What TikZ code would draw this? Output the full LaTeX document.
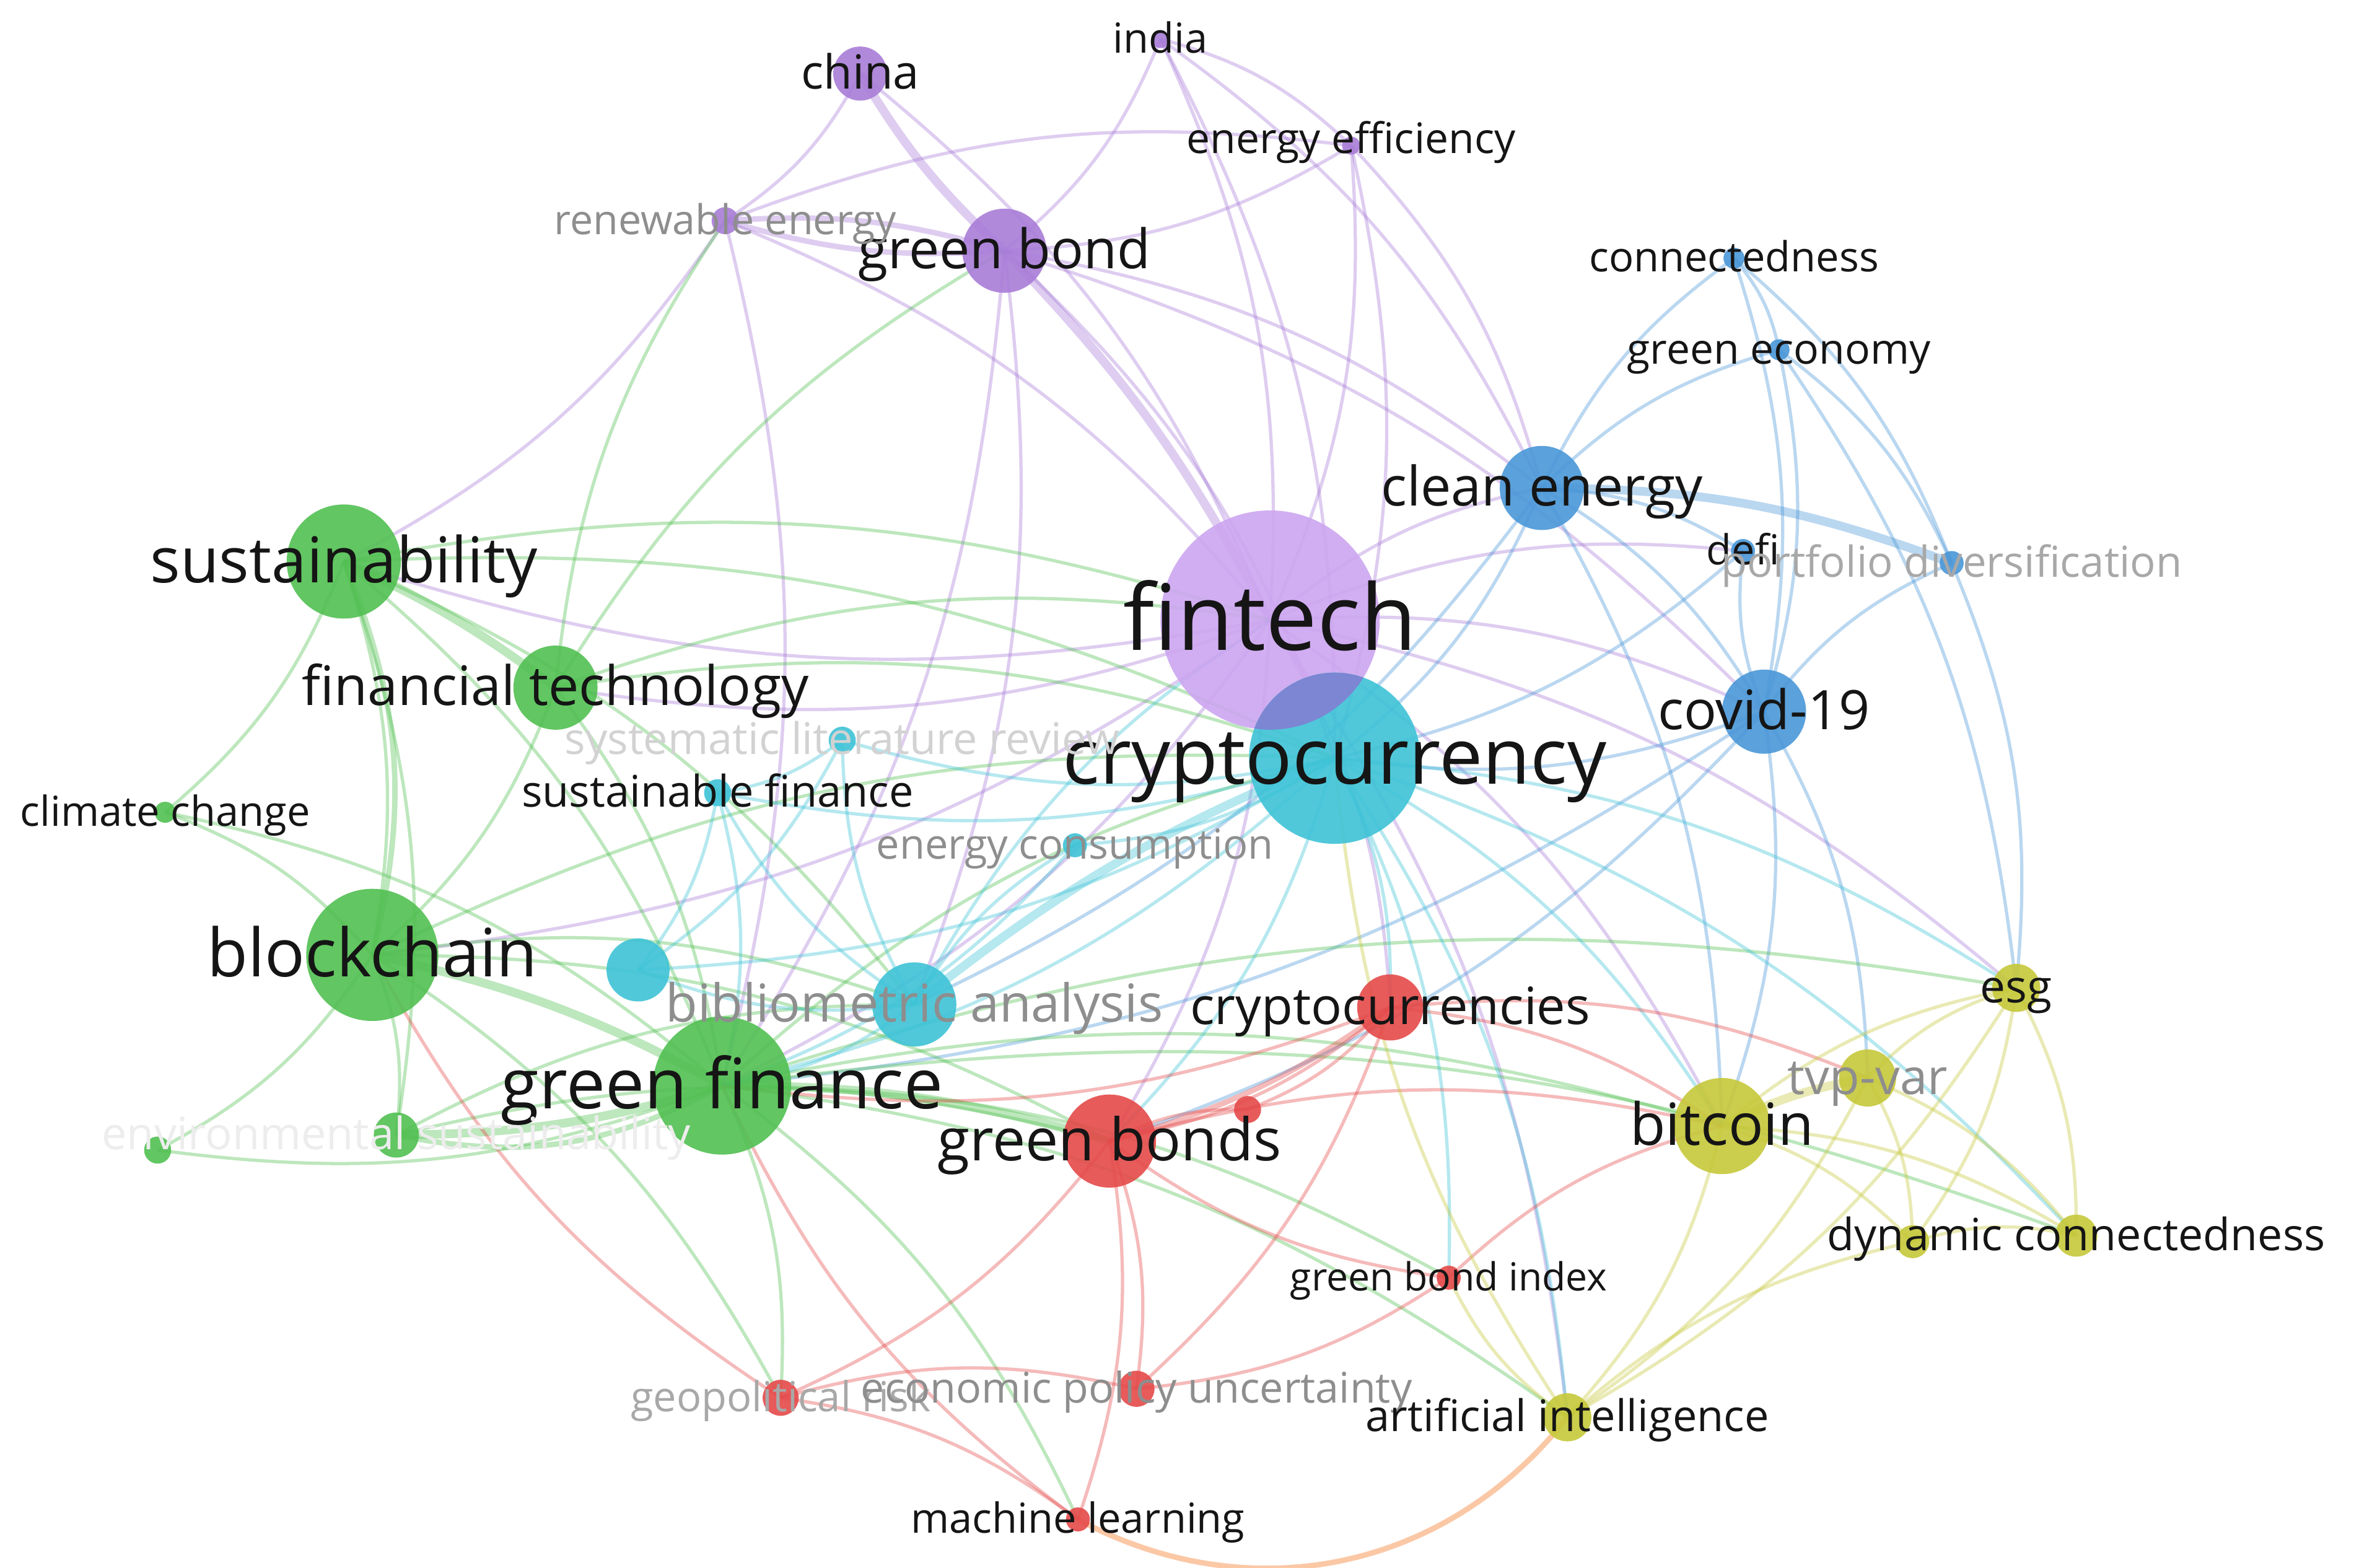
\documentclass[tikz,border=0pt]{standalone}
\usepackage{fontspec}
\setmainfont{Open Sans}
\usetikzlibrary{calc}
\definecolor{purp}{HTML}{A97DD8}
\definecolor{purpL}{HTML}{CDA6F0}
\definecolor{blu}{HTML}{4A97D8}
\definecolor{grn}{HTML}{52C052}
\definecolor{cyn}{HTML}{3EC3D7}
\definecolor{rd}{HTML}{E54A4A}
\definecolor{yel}{HTML}{C6C83A}
\definecolor{ovl}{HTML}{7C86D2}
\definecolor{txt}{HTML}{151515}
\definecolor{gr1}{HTML}{8E8E8E}
\definecolor{gr2}{HTML}{A8A8A8}
\definecolor{gr3}{HTML}{D2D2D2}
\definecolor{gr4}{HTML}{EDEDED}
\newcommand\fsz[1]{\fontsize{#1pt}{#1pt}\selectfont}
\tikzset{
  nd/.style 2 args={circle, fill=#1, fill opacity=0.9, minimum size=#2*0.04847cm, inner sep=0pt, draw=none},
  lab/.style={inner sep=0pt, text=txt, anchor=base, font=\fsz{#1}, yshift=-0.33*#1 pt},
  ed/.style={line width=1.5pt, draw=#1, draw opacity=0.38},
  thk/.style={line width=4pt},
  mid/.style={line width=2.5pt}
}
\begin{document}
\begin{tikzpicture}[x=0.024235cm, y=-0.024235cm]
\useasboundingbox (0,0) rectangle (1568,1044);
\fill[white] (0,0) rectangle (1568,1044);
% coordinates
\coordinate (ft) at (846,413);
\coordinate (cc) at (889,505);
\coordinate (ce) at (1027,325);
\coordinate (cv) at (1175,474);
\coordinate (cn) at (1155,172);
\coordinate (ge) at (1185,233);
\coordinate (df) at (1161,367);
\coordinate (pd) at (1300,375);
\coordinate (gb) at (669,167);
\coordinate (ch) at (573,49);
\coordinate (in) at (773,26);
\coordinate (ee) at (900,97);
\coordinate (re) at (483,147);
\coordinate (su) at (229,374);
\coordinate (ftc) at (370,458);
\coordinate (cl) at (110,541);
\coordinate (bc) at (248,636);
\coordinate (gf) at (481,723);
\coordinate (es) at (264,756);
\coordinate (u1) at (105,766);
\coordinate (sl) at (561,493);
\coordinate (sf) at (478,528);
\coordinate (ec) at (716,563);
\coordinate (u2) at (425,646);
\coordinate (ba) at (609,669);
\coordinate (crs) at (926,671);
\coordinate (gbs) at (739,760);
\coordinate (u3) at (831,739);
\coordinate (gbi) at (965,851);
\coordinate (gr) at (520,931);
\coordinate (ep) at (757,925);
\coordinate (ml) at (718,1012);
\coordinate (bt) at (1147,750);
\coordinate (tv) at (1244,718);
\coordinate (esg) at (1343,658);
\coordinate (dc) at (1383,823);
\coordinate (u4) at (1274,827);
\coordinate (ai) at (1044,944);
% ---------- edges ----------
% purple
\foreach \a/\b in {ch/ft, ch/re, re/ee, re/ft, re/su, re/gf, in/gb, in/ft, in/ce, in/cc, in/ee,
  ee/gb, ee/ft, ee/ce, ee/cc, gb/cc, gb/ce, gb/gf, gb/ba, gb/cv, ft/ftc, ft/su, ft/bc, ft/gf,
  ft/ce, ft/cv, ft/bt, ft/esg, ft/gbs, ft/crs, ft/ai, ft/df}
  \draw[ed=purp] (\a) to[bend left=14] (\b);
\draw[ed=purp, thk] (ch) to[bend right=8] (gb);
\draw[ed=purp, mid] (re) to[bend left=10] (gb);
\draw[ed=purp, mid] (re) to[bend right=10] (gb);
\draw[ed=purp, thk] (gb) to[bend left=8] (ft);
% blue
\foreach \a/\b in {ce/cn, ce/ge, ce/cv, ce/df, ce/cc, ce/bt, ce/ba, cn/ge, cn/cv, cn/pd,
  ge/cv, ge/pd, ge/esg, cv/pd, cv/cc, cv/bt, cv/tv, cv/gbs, cv/gf, cv/df, df/cc, pd/esg}
  \draw[ed=blu] (\a) to[bend left=14] (\b);
\draw[ed=blu, thk] (ce) to[bend left=10] (pd);
% green
\foreach \a/\b in {su/bc, su/cl, su/gf, su/ft, su/cc, su/es, su/ba, ftc/bc, ftc/gf, ftc/ft,
  ftc/cc, ftc/gb, ftc/re, cl/bc, cl/gf, bc/es, bc/u1, bc/cc, bc/gbs, bc/ba, bc/gr,
  gf/cc, gf/bt, gf/esg, gf/u1, gf/gr, gf/ml, gf/gbi, gf/dc, gf/ai, es/ba, es/gbs}
  \draw[ed=grn] (\a) to[bend left=14] (\b);
\draw[ed=grn, thk] (su) to[bend left=6] (ftc);
\draw[ed=grn, mid] (bc) to[bend right=18] (su);
\draw[ed=grn, thk] (bc) to[bend left=8] (gf);
\draw[ed=grn, thk] (gf) to[bend left=8] (gbs);
\draw[ed=grn, thk] (es) to[bend right=8] (gf);
\draw[ed=grn, mid] (es) to[bend right=20] (gf);
% cyan
\foreach \a/\b in {cc/sl, cc/sf, cc/ec, cc/u2, cc/gf, cc/bt, cc/esg, cc/dc, cc/gbi, cc/ai,
  cc/gbs, cc/crs, ba/sl, ba/sf, ba/u2, ba/gf, ba/ft, ba/ec, sl/sf, sf/gf, sf/u2, sl/u2, ec/gf}
  \draw[ed=cyn] (\a) to[bend left=14] (\b);
\draw[ed=cyn, thk] (cc) to[bend right=8] (ba);
% red
\foreach \a/\b in {crs/gbs, crs/bt, crs/tv, crs/u3, crs/gf, crs/ep, gbs/ep, gbs/ml, gbs/gr,
  gbs/u3, gbs/bt, gr/ml, gr/ep, gr/bc, ml/gf, gbi/bt, gbi/gbs, gbi/ep}
  \draw[ed=rd] (\a) to[bend left=14] (\b);
\draw[ed=rd, mid] (gbs) to[bend right=10] (crs);
\draw[ed=orange!70!rd, mid] (ml) to[bend right=40] (ai);
% yellow
\foreach \a/\b in {bt/esg, bt/dc, bt/u4, bt/ai, tv/esg, tv/dc, tv/u4, tv/ai, esg/dc, esg/u4,
  esg/ai, u4/dc, ai/u4, ai/cc, ai/gbi}
  \draw[ed=yel] (\a) to[bend left=14] (\b);
\draw[ed=yel, thk] (bt) to[bend left=8] (tv);
% ---------- nodes ----------
\node[nd={purpL}{73}] (ftN) at (ft) {};
\node[nd={cyn}{57}] (ccN) at (cc) {};
\begin{scope}
  \clip (ft) circle (73);
  \fill[ovl] (cc) circle (57);
\end{scope}
\node[nd={blu}{28}] (ceN) at (ce) {};
\node[nd={blu}{28}] (cvN) at (cv) {};
\node[nd={blu}{7}] (cnN) at (cn) {};
\node[nd={blu}{7}] (geN) at (ge) {};
\node[nd={blu}{8}] (dfN) at (df) {};
\node[nd={blu}{8}] (pdN) at (pd) {};
\node[nd={purp}{28}] (gbN) at (gb) {};
\node[nd={purp}{18}] (chN) at (ch) {};
\node[nd={purp}{6}] (inN) at (in) {};
\node[nd={purp}{6}] (eeN) at (ee) {};
\node[nd={purp}{9}] (reN) at (re) {};
\node[nd={grn}{38}] (suN) at (su) {};
\node[nd={grn}{28}] (ftcN) at (ftc) {};
\node[nd={grn}{7}] (clN) at (cl) {};
\node[nd={grn}{44}] (bcN) at (bc) {};
\node[nd={grn}{46}] (gfN) at (gf) {};
\node[nd={grn}{15}] (esN) at (es) {};
\node[nd={grn}{9}] (u1N) at (u1) {};
\node[nd={cyn}{9}] (slN) at (sl) {};
\node[nd={cyn}{9}] (sfN) at (sf) {};
\node[nd={cyn}{8}] (ecN) at (ec) {};
\node[nd={cyn}{21}] (u2N) at (u2) {};
\node[nd={cyn}{28}] (baN) at (ba) {};
\node[nd={rd}{22}] (crsN) at (crs) {};
\node[nd={rd}{31}] (gbsN) at (gbs) {};
\node[nd={rd}{9}] (u3N) at (u3) {};
\node[nd={rd}{8}] (gbiN) at (gbi) {};
\node[nd={rd}{12}] (grN) at (gr) {};
\node[nd={rd}{12}] (epN) at (ep) {};
\node[nd={rd}{8}] (mlN) at (ml) {};
\node[nd={yel}{32}] (btN) at (bt) {};
\node[nd={yel}{19}] (tvN) at (tv) {};
\node[nd={yel}{16}] (esgN) at (esg) {};
\node[nd={yel}{14}] (dcN) at (dc) {};
\node[nd={yel}{11}] (u4N) at (u4) {};
\node[nd={yel}{16}] (aiN) at (ai) {};
% ---------- labels ----------
\node[lab=42] (ftL) at (ft) {fintech};
\node[lab=35.7] (ccL) at (cc) {cryptocurrency};
\node[lab=25] (ceL) at (ce) {clean energy};
\node[lab=25] (cvL) at (cv) {covid-19};
\node[lab=19] (cnL) at (cn) {connectedness};
\node[lab=19.3] (geL) at (ge) {green economy};
\node[lab=19] (dfL) at (df) {defi};
\node[lab=19.6, text=gr2] (pdL) at (pd) {portfolio diversification};
\node[lab=25] (gbL) at (gb) {green bond};
\node[lab=21.6] (chL) at (ch) {china};
\node[lab=19] (inL) at (in) {india};
\node[lab=19.3] (eeL) at ($(ee)+(0,-4)$) {energy efficiency};
\node[lab=18.9, text=gr1] (reL) at (re) {renewable energy};
\node[lab=29] (suL) at (su) {sustainability};
\node[lab=25] (ftcL) at (ftc) {financial technology};
\node[lab=19] (clL) at (cl) {climate change};
\node[lab=30.6] (bcL) at (bc) {blockchain};
\node[lab=32] (gfL) at (gf) {green finance};
\node[lab=20.5, text=gr4] (esL) at (es) {environmental sustainability};
\node[lab=20, text=gr3] (slL) at (sl) {systematic literature review};
\node[lab=20] (sfL) at (sf) {sustainable finance};
\node[lab=19, text=gr1] (ecL) at (ec) {energy consumption};
\node[lab=24, text=gr1] (baL) at (ba) {bibliometric analysis};
\node[lab=23.6] (crsL) at (crs) {cryptocurrencies};
\node[lab=27] (gbsL) at (gbs) {green bonds};
\node[lab=17.8] (gbiL) at (gbi) {green bond index};
\node[lab=19, text=gr2] (grL) at (gr) {geopolitical risk};
\node[lab=19.4, text=gr1] (epL) at (ep) {economic policy uncertainty};
\node[lab=19] (mlL) at (ml) {machine learning};
\node[lab=26.7] (btL) at (bt) {bitcoin};
\node[lab=22.6, text=gr1] (tvL) at (tv) {tvp-var};
\node[lab=20.8] (esgL) at (esg) {esg};
\node[lab=20.4] (dcL) at (dc) {dynamic connectedness};
\node[lab=20] (aiL) at (ai) {artificial intelligence};
\end{tikzpicture}
\end{document}
